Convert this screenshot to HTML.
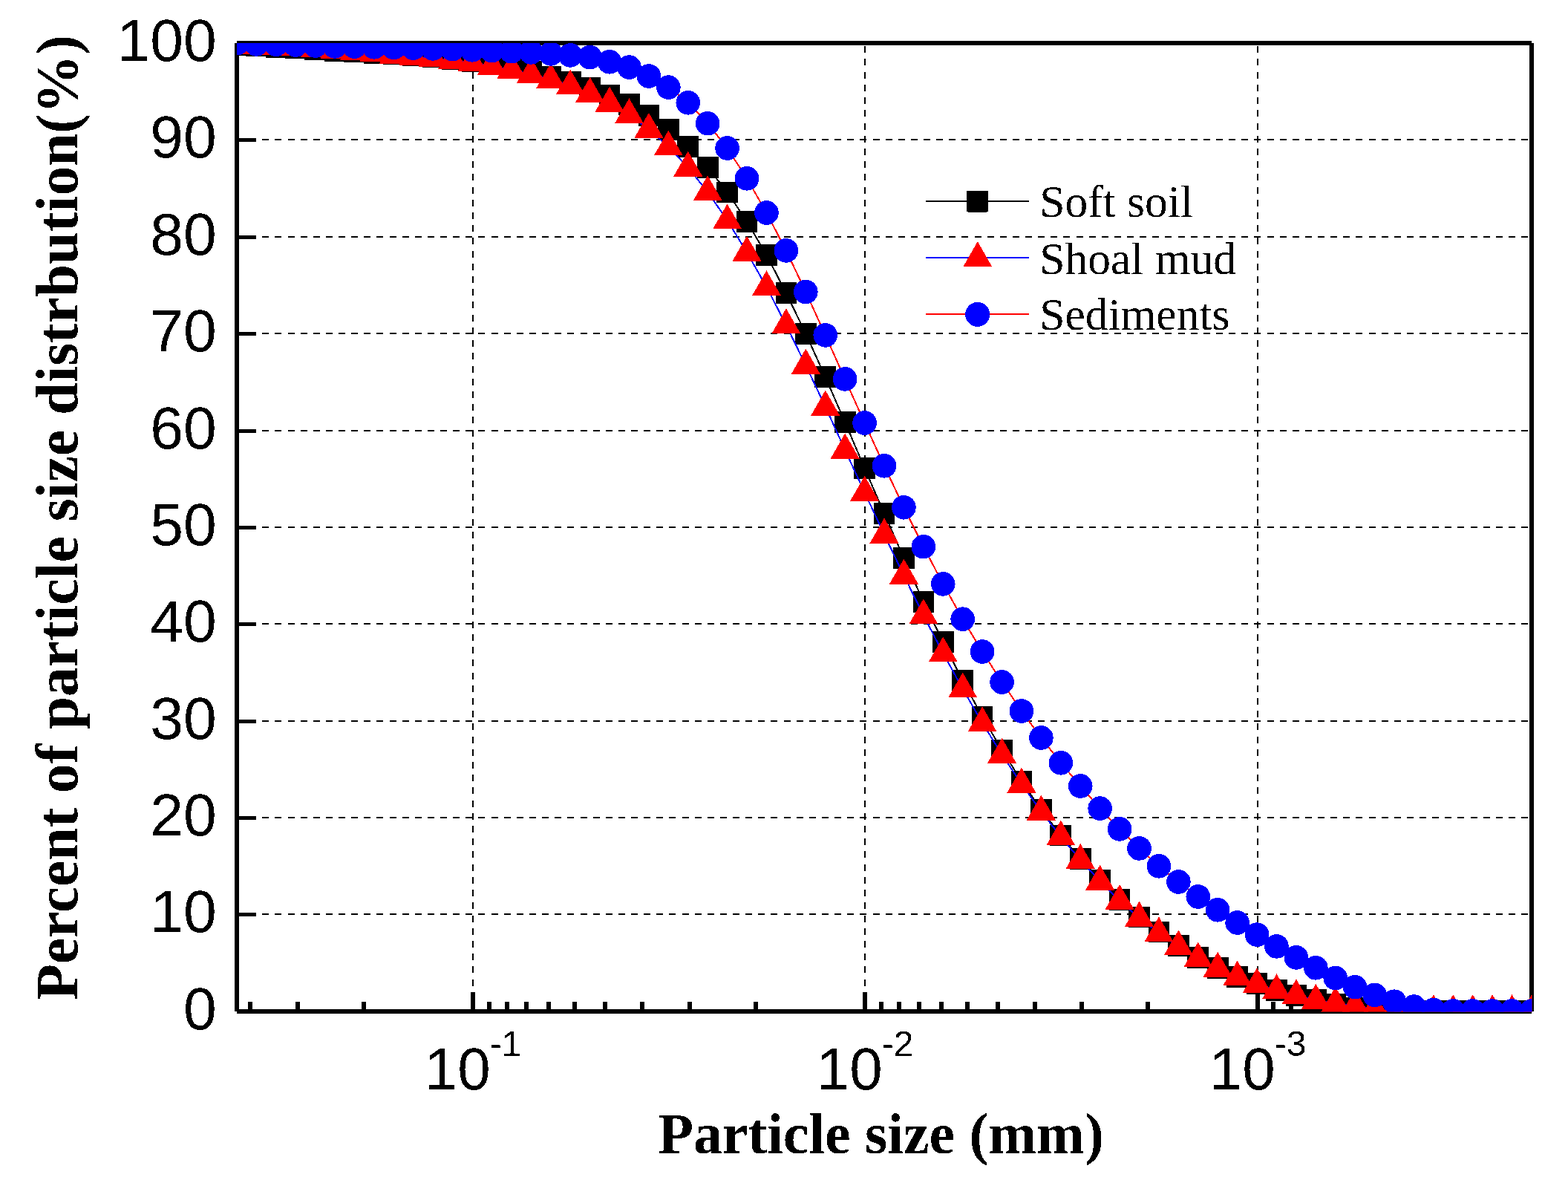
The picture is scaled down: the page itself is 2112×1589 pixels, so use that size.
<!DOCTYPE html>
<html><head><meta charset="utf-8"><title>Particle size distribution</title>
<style>html,body{margin:0;padding:0;background:#fff;}svg{display:block;}</style></head><body>
<svg width="2112" height="1589" viewBox="0 0 2112 1589" shape-rendering="crispEdges">
<defs><filter id="al" x="0" y="0" width="2112" height="1589" filterUnits="userSpaceOnUse" color-interpolation-filters="sRGB"><feComponentTransfer><feFuncA type="discrete" tableValues="0 1"/></feComponentTransfer></filter><clipPath id="pc"><rect x="319" y="58" width="1744.5" height="1304.5"/></clipPath></defs>
<rect width="2112" height="1589" fill="#fff"/>
<g stroke="#000" stroke-width="2" stroke-dasharray="9 8.13" fill="none"><line x1="319" y1="1231" x2="2063" y2="1231"/><line x1="319" y1="1101" x2="2063" y2="1101"/><line x1="319" y1="971" x2="2063" y2="971"/><line x1="319" y1="840" x2="2063" y2="840"/><line x1="319" y1="710" x2="2063" y2="710"/><line x1="319" y1="580" x2="2063" y2="580"/><line x1="319" y1="449" x2="2063" y2="449"/><line x1="319" y1="319" x2="2063" y2="319"/><line x1="319" y1="188" x2="2063" y2="188"/></g>
<g stroke="#000" stroke-width="2" stroke-dasharray="9 8.21" fill="none"><line x1="637" y1="1362" x2="637" y2="58"/><line x1="1165" y1="1362" x2="1165" y2="58"/><line x1="1694" y1="1362" x2="1694" y2="58"/></g>
<g stroke="#000" stroke-width="6" fill="none"><line x1="319" y1="58" x2="319" y2="1362"/><line x1="319" y1="1362" x2="2063" y2="1362"/><line x1="319" y1="58" x2="2063" y2="58"/><line x1="2063" y1="58" x2="2063" y2="1362"/></g>
<g stroke="#000" stroke-width="5" fill="none"><line x1="319" y1="1231.5" x2="345" y2="1231.5"/><line x1="319" y1="1101.5" x2="345" y2="1101.5"/><line x1="319" y1="971.5" x2="345" y2="971.5"/><line x1="319" y1="840.5" x2="345" y2="840.5"/><line x1="319" y1="710.5" x2="345" y2="710.5"/><line x1="319" y1="580.5" x2="345" y2="580.5"/><line x1="319" y1="449.5" x2="345" y2="449.5"/><line x1="319" y1="319.5" x2="345" y2="319.5"/><line x1="319" y1="188.5" x2="345" y2="188.5"/></g>
<g stroke="#000" stroke-width="6" fill="none"><line x1="637" y1="1362" x2="637" y2="1336"/><line x1="1165" y1="1362" x2="1165" y2="1336"/><line x1="1694" y1="1362" x2="1694" y2="1336"/><line x1="337" y1="1362" x2="337" y2="1349"/><line x1="401" y1="1362" x2="401" y2="1349"/><line x1="490" y1="1362" x2="490" y2="1349"/><line x1="659" y1="1362" x2="659" y2="1349"/><line x1="683" y1="1362" x2="683" y2="1349"/><line x1="709" y1="1362" x2="709" y2="1349"/><line x1="739" y1="1362" x2="739" y2="1349"/><line x1="774" y1="1362" x2="774" y2="1349"/><line x1="815" y1="1362" x2="815" y2="1349"/><line x1="865" y1="1362" x2="865" y2="1349"/><line x1="929" y1="1362" x2="929" y2="1349"/><line x1="1018" y1="1362" x2="1018" y2="1349"/><line x1="1187" y1="1362" x2="1187" y2="1349"/><line x1="1211" y1="1362" x2="1211" y2="1349"/><line x1="1238" y1="1362" x2="1238" y2="1349"/><line x1="1268" y1="1362" x2="1268" y2="1349"/><line x1="1303" y1="1362" x2="1303" y2="1349"/><line x1="1344" y1="1362" x2="1344" y2="1349"/><line x1="1394" y1="1362" x2="1394" y2="1349"/><line x1="1457" y1="1362" x2="1457" y2="1349"/><line x1="1546" y1="1362" x2="1546" y2="1349"/><line x1="1715" y1="1362" x2="1715" y2="1349"/><line x1="1739" y1="1362" x2="1739" y2="1349"/><line x1="1766" y1="1362" x2="1766" y2="1349"/><line x1="1796" y1="1362" x2="1796" y2="1349"/><line x1="1831" y1="1362" x2="1831" y2="1349"/><line x1="1872" y1="1362" x2="1872" y2="1349"/><line x1="1922" y1="1362" x2="1922" y2="1349"/><line x1="1986" y1="1362" x2="1986" y2="1349"/></g>
<g clip-path="url(#pc)">
<polyline points="319,60.7 345.42,61.9 371.85,63.9 398.27,64.9 424.7,66.8 451.12,68.7 477.55,69.8 503.97,71.7 530.39,72.7 556.82,74.7 583.24,76.6 609.67,79.8 636.09,82.8 662.52,86.5 688.94,91 715.36,96.5 741.79,103 768.21,110 794.64,118.5 821.06,128.4 847.48,140.3 873.91,155.2 900.33,174.3 926.76,197.5 953.18,225.2 979.61,258.9 1006.03,298.3 1032.45,343.3 1058.88,394.5 1085.3,449.2 1111.73,507.8 1138.15,568.4 1164.58,630.5 1191,691.5 1217.42,751.4 1243.85,810.5 1270.27,864.6 1296.7,916.5 1323.12,965 1349.55,1010 1375.97,1052 1402.39,1090.1 1428.82,1125.1 1455.24,1156.3 1481.67,1185 1508.09,1211.5 1534.52,1234.9 1560.94,1255.1 1587.36,1273.3 1613.79,1289.2 1640.21,1303.5 1666.64,1315.3 1693.06,1324.4 1719.48,1333.4 1745.91,1340.2 1772.33,1346.3 1798.76,1351.9 1825.18,1357.4 1851.61,1360.5 1878.03,1361.5 1904.45,1361.5 1930.88,1361.5 1957.3,1361.5 1983.73,1361.5 2010.15,1361.5 2036.58,1361.5 2063,1361.5" fill="none" stroke="#000" stroke-width="2" stroke-linejoin="round"/>
<g fill="#000"><rect x="304.65" y="46.35" width="28.7" height="28.7"/><rect x="331.07" y="47.55" width="28.7" height="28.7"/><rect x="357.5" y="49.55" width="28.7" height="28.7"/><rect x="383.92" y="50.55" width="28.7" height="28.7"/><rect x="410.35" y="52.45" width="28.7" height="28.7"/><rect x="436.77" y="54.35" width="28.7" height="28.7"/><rect x="463.2" y="55.45" width="28.7" height="28.7"/><rect x="489.62" y="57.35" width="28.7" height="28.7"/><rect x="516.04" y="58.35" width="28.7" height="28.7"/><rect x="542.47" y="60.35" width="28.7" height="28.7"/><rect x="568.89" y="62.25" width="28.7" height="28.7"/><rect x="595.32" y="65.45" width="28.7" height="28.7"/><rect x="621.74" y="68.45" width="28.7" height="28.7"/><rect x="648.17" y="72.15" width="28.7" height="28.7"/><rect x="674.59" y="76.65" width="28.7" height="28.7"/><rect x="701.01" y="82.15" width="28.7" height="28.7"/><rect x="727.44" y="88.65" width="28.7" height="28.7"/><rect x="753.86" y="95.65" width="28.7" height="28.7"/><rect x="780.29" y="104.15" width="28.7" height="28.7"/><rect x="806.71" y="114.05" width="28.7" height="28.7"/><rect x="833.13" y="125.95" width="28.7" height="28.7"/><rect x="859.56" y="140.85" width="28.7" height="28.7"/><rect x="885.98" y="159.95" width="28.7" height="28.7"/><rect x="912.41" y="183.15" width="28.7" height="28.7"/><rect x="938.83" y="210.85" width="28.7" height="28.7"/><rect x="965.26" y="244.55" width="28.7" height="28.7"/><rect x="991.68" y="283.95" width="28.7" height="28.7"/><rect x="1018.1" y="328.95" width="28.7" height="28.7"/><rect x="1044.53" y="380.15" width="28.7" height="28.7"/><rect x="1070.95" y="434.85" width="28.7" height="28.7"/><rect x="1097.38" y="493.45" width="28.7" height="28.7"/><rect x="1123.8" y="554.05" width="28.7" height="28.7"/><rect x="1150.23" y="616.15" width="28.7" height="28.7"/><rect x="1176.65" y="677.15" width="28.7" height="28.7"/><rect x="1203.07" y="737.05" width="28.7" height="28.7"/><rect x="1229.5" y="796.15" width="28.7" height="28.7"/><rect x="1255.92" y="850.25" width="28.7" height="28.7"/><rect x="1282.35" y="902.15" width="28.7" height="28.7"/><rect x="1308.77" y="950.65" width="28.7" height="28.7"/><rect x="1335.2" y="995.65" width="28.7" height="28.7"/><rect x="1361.62" y="1037.65" width="28.7" height="28.7"/><rect x="1388.04" y="1075.75" width="28.7" height="28.7"/><rect x="1414.47" y="1110.75" width="28.7" height="28.7"/><rect x="1440.89" y="1141.95" width="28.7" height="28.7"/><rect x="1467.32" y="1170.65" width="28.7" height="28.7"/><rect x="1493.74" y="1197.15" width="28.7" height="28.7"/><rect x="1520.17" y="1220.55" width="28.7" height="28.7"/><rect x="1546.59" y="1240.75" width="28.7" height="28.7"/><rect x="1573.01" y="1258.95" width="28.7" height="28.7"/><rect x="1599.44" y="1274.85" width="28.7" height="28.7"/><rect x="1625.86" y="1289.15" width="28.7" height="28.7"/><rect x="1652.29" y="1300.95" width="28.7" height="28.7"/><rect x="1678.71" y="1310.05" width="28.7" height="28.7"/><rect x="1705.13" y="1319.05" width="28.7" height="28.7"/><rect x="1731.56" y="1325.85" width="28.7" height="28.7"/><rect x="1757.98" y="1331.95" width="28.7" height="28.7"/><rect x="1784.41" y="1337.55" width="28.7" height="28.7"/><rect x="1810.83" y="1343.05" width="28.7" height="28.7"/><rect x="1837.26" y="1346.15" width="28.7" height="28.7"/><rect x="1863.68" y="1347.15" width="28.7" height="28.7"/><rect x="1890.1" y="1347.15" width="28.7" height="28.7"/><rect x="1916.53" y="1347.15" width="28.7" height="28.7"/><rect x="1942.95" y="1347.15" width="28.7" height="28.7"/><rect x="1969.38" y="1347.15" width="28.7" height="28.7"/><rect x="1995.8" y="1347.15" width="28.7" height="28.7"/><rect x="2022.23" y="1347.15" width="28.7" height="28.7"/><rect x="2048.65" y="1347.15" width="28.7" height="28.7"/></g>
<polyline points="319,60 345.42,61 371.85,62 398.27,63.5 424.7,65.3 451.12,67.2 477.55,69.3 503.97,71.3 530.39,74 556.82,76.3 583.24,78.1 609.67,81.2 636.09,84.2 662.52,89 688.94,94 715.36,100 741.79,107.1 768.21,115.7 794.64,126.1 821.06,138.9 847.48,154.5 873.91,174 900.33,197.7 926.76,225.8 953.18,258.5 979.61,296.7 1006.03,339.9 1032.45,386.5 1058.88,437.6 1085.3,491.8 1111.73,547.8 1138.15,605.8 1164.58,663 1191,719.8 1217.42,774.8 1243.85,828.6 1270.27,879.6 1296.7,927.7 1323.12,973.5 1349.55,1016 1375.97,1055.8 1402.39,1092.8 1428.82,1126.7 1455.24,1158.1 1481.67,1186.8 1508.09,1213 1534.52,1235.9 1560.94,1256.5 1587.36,1274.5 1613.79,1290.7 1640.21,1303.8 1666.64,1315.7 1693.06,1325.5 1719.48,1333.6 1745.91,1340.6 1772.33,1347 1798.76,1351 1825.18,1354.5 1851.61,1358.5 1878.03,1361.5 1904.45,1361.5 1930.88,1361.5 1957.3,1361.5 1983.73,1361.5 2010.15,1361.5 2036.58,1361.5 2063,1361.5" fill="none" stroke="#00f" stroke-width="2" stroke-linejoin="round"/>
<g fill="#f00"><path d="M319 37.8L338.5 71.7L299.5 71.7Z"/><path d="M345.42 38.8L364.92 72.7L325.92 72.7Z"/><path d="M371.85 39.8L391.35 73.7L352.35 73.7Z"/><path d="M398.27 41.3L417.77 75.2L378.77 75.2Z"/><path d="M424.7 43.1L444.2 77L405.2 77Z"/><path d="M451.12 45L470.62 78.9L431.62 78.9Z"/><path d="M477.55 47.1L497.05 81L458.05 81Z"/><path d="M503.97 49.1L523.47 83L484.47 83Z"/><path d="M530.39 51.8L549.89 85.7L510.89 85.7Z"/><path d="M556.82 54.1L576.32 88L537.32 88Z"/><path d="M583.24 55.9L602.74 89.8L563.74 89.8Z"/><path d="M609.67 59L629.17 92.9L590.17 92.9Z"/><path d="M636.09 62L655.59 95.9L616.59 95.9Z"/><path d="M662.52 66.8L682.02 100.7L643.02 100.7Z"/><path d="M688.94 71.8L708.44 105.7L669.44 105.7Z"/><path d="M715.36 77.8L734.86 111.7L695.86 111.7Z"/><path d="M741.79 84.9L761.29 118.8L722.29 118.8Z"/><path d="M768.21 93.5L787.71 127.4L748.71 127.4Z"/><path d="M794.64 103.9L814.14 137.8L775.14 137.8Z"/><path d="M821.06 116.7L840.56 150.6L801.56 150.6Z"/><path d="M847.48 132.3L866.98 166.2L827.98 166.2Z"/><path d="M873.91 151.8L893.41 185.7L854.41 185.7Z"/><path d="M900.33 175.5L919.83 209.4L880.83 209.4Z"/><path d="M926.76 203.6L946.26 237.5L907.26 237.5Z"/><path d="M953.18 236.3L972.68 270.2L933.68 270.2Z"/><path d="M979.61 274.5L999.11 308.4L960.11 308.4Z"/><path d="M1006.03 317.7L1025.53 351.6L986.53 351.6Z"/><path d="M1032.45 364.3L1051.95 398.2L1012.95 398.2Z"/><path d="M1058.88 415.4L1078.38 449.3L1039.38 449.3Z"/><path d="M1085.3 469.6L1104.8 503.5L1065.8 503.5Z"/><path d="M1111.73 525.6L1131.23 559.5L1092.23 559.5Z"/><path d="M1138.15 583.6L1157.65 617.5L1118.65 617.5Z"/><path d="M1164.58 640.8L1184.08 674.7L1145.08 674.7Z"/><path d="M1191 697.6L1210.5 731.5L1171.5 731.5Z"/><path d="M1217.42 752.6L1236.92 786.5L1197.92 786.5Z"/><path d="M1243.85 806.4L1263.35 840.3L1224.35 840.3Z"/><path d="M1270.27 857.4L1289.77 891.3L1250.77 891.3Z"/><path d="M1296.7 905.5L1316.2 939.4L1277.2 939.4Z"/><path d="M1323.12 951.3L1342.62 985.2L1303.62 985.2Z"/><path d="M1349.55 993.8L1369.05 1027.7L1330.05 1027.7Z"/><path d="M1375.97 1033.6L1395.47 1067.5L1356.47 1067.5Z"/><path d="M1402.39 1070.6L1421.89 1104.5L1382.89 1104.5Z"/><path d="M1428.82 1104.5L1448.32 1138.4L1409.32 1138.4Z"/><path d="M1455.24 1135.9L1474.74 1169.8L1435.74 1169.8Z"/><path d="M1481.67 1164.6L1501.17 1198.5L1462.17 1198.5Z"/><path d="M1508.09 1190.8L1527.59 1224.7L1488.59 1224.7Z"/><path d="M1534.52 1213.7L1554.02 1247.6L1515.02 1247.6Z"/><path d="M1560.94 1234.3L1580.44 1268.2L1541.44 1268.2Z"/><path d="M1587.36 1252.3L1606.86 1286.2L1567.86 1286.2Z"/><path d="M1613.79 1268.5L1633.29 1302.4L1594.29 1302.4Z"/><path d="M1640.21 1281.6L1659.71 1315.5L1620.71 1315.5Z"/><path d="M1666.64 1293.5L1686.14 1327.4L1647.14 1327.4Z"/><path d="M1693.06 1303.3L1712.56 1337.2L1673.56 1337.2Z"/><path d="M1719.48 1311.4L1738.98 1345.3L1699.98 1345.3Z"/><path d="M1745.91 1318.4L1765.41 1352.3L1726.41 1352.3Z"/><path d="M1772.33 1324.8L1791.83 1358.7L1752.83 1358.7Z"/><path d="M1798.76 1328.8L1818.26 1362.7L1779.26 1362.7Z"/><path d="M1825.18 1332.3L1844.68 1366.2L1805.68 1366.2Z"/><path d="M1851.61 1336.3L1871.11 1370.2L1832.11 1370.2Z"/><path d="M1878.03 1339.3L1897.53 1373.2L1858.53 1373.2Z"/><path d="M1904.45 1339.3L1923.95 1373.2L1884.95 1373.2Z"/><path d="M1930.88 1339.3L1950.38 1373.2L1911.38 1373.2Z"/><path d="M1957.3 1339.3L1976.8 1373.2L1937.8 1373.2Z"/><path d="M1983.73 1339.3L2003.23 1373.2L1964.23 1373.2Z"/><path d="M2010.15 1339.3L2029.65 1373.2L1990.65 1373.2Z"/><path d="M2036.58 1339.3L2056.08 1373.2L2017.08 1373.2Z"/><path d="M2063 1339.3L2082.5 1373.2L2043.5 1373.2Z"/></g>
<polyline points="319,58.2 345.42,59.4 371.85,59.7 398.27,60.5 424.7,61.5 451.12,62.4 477.55,62.6 503.97,63.3 530.39,63.9 556.82,64.6 583.24,65.4 609.67,66.2 636.09,67.3 662.52,68.2 688.94,69.2 715.36,70.4 741.79,72.4 768.21,74.4 794.64,77.1 821.06,83.3 847.48,90.6 873.91,102.5 900.33,117.6 926.76,138.3 953.18,166.2 979.61,199.5 1006.03,240.4 1032.45,286.5 1058.88,337.4 1085.3,393 1111.73,451.4 1138.15,510.4 1164.58,569.5 1191,627.3 1217.42,683.3 1243.85,736.2 1270.27,786.4 1296.7,833.7 1323.12,877.5 1349.55,918.5 1375.97,957.5 1402.39,993.5 1428.82,1027.3 1455.24,1058.5 1481.67,1088.6 1508.09,1116.4 1534.52,1142.4 1560.94,1166.3 1587.36,1187.5 1613.79,1207.5 1640.21,1225.3 1666.64,1242.5 1693.06,1258.6 1719.48,1274.4 1745.91,1289.4 1772.33,1303.3 1798.76,1317 1825.18,1329.2 1851.61,1339.9 1878.03,1348.7 1904.45,1355.6 1930.88,1360 1957.3,1361.5 1983.73,1361.5 2010.15,1361.5 2036.58,1361.5 2063,1361.5" fill="none" stroke="#f00" stroke-width="2" stroke-linejoin="round"/>
<g fill="#00f"><circle cx="319" cy="58.2" r="16.3"/><circle cx="345.42" cy="59.4" r="16.3"/><circle cx="371.85" cy="59.7" r="16.3"/><circle cx="398.27" cy="60.5" r="16.3"/><circle cx="424.7" cy="61.5" r="16.3"/><circle cx="451.12" cy="62.4" r="16.3"/><circle cx="477.55" cy="62.6" r="16.3"/><circle cx="503.97" cy="63.3" r="16.3"/><circle cx="530.39" cy="63.9" r="16.3"/><circle cx="556.82" cy="64.6" r="16.3"/><circle cx="583.24" cy="65.4" r="16.3"/><circle cx="609.67" cy="66.2" r="16.3"/><circle cx="636.09" cy="67.3" r="16.3"/><circle cx="662.52" cy="68.2" r="16.3"/><circle cx="688.94" cy="69.2" r="16.3"/><circle cx="715.36" cy="70.4" r="16.3"/><circle cx="741.79" cy="72.4" r="16.3"/><circle cx="768.21" cy="74.4" r="16.3"/><circle cx="794.64" cy="77.1" r="16.3"/><circle cx="821.06" cy="83.3" r="16.3"/><circle cx="847.48" cy="90.6" r="16.3"/><circle cx="873.91" cy="102.5" r="16.3"/><circle cx="900.33" cy="117.6" r="16.3"/><circle cx="926.76" cy="138.3" r="16.3"/><circle cx="953.18" cy="166.2" r="16.3"/><circle cx="979.61" cy="199.5" r="16.3"/><circle cx="1006.03" cy="240.4" r="16.3"/><circle cx="1032.45" cy="286.5" r="16.3"/><circle cx="1058.88" cy="337.4" r="16.3"/><circle cx="1085.3" cy="393" r="16.3"/><circle cx="1111.73" cy="451.4" r="16.3"/><circle cx="1138.15" cy="510.4" r="16.3"/><circle cx="1164.58" cy="569.5" r="16.3"/><circle cx="1191" cy="627.3" r="16.3"/><circle cx="1217.42" cy="683.3" r="16.3"/><circle cx="1243.85" cy="736.2" r="16.3"/><circle cx="1270.27" cy="786.4" r="16.3"/><circle cx="1296.7" cy="833.7" r="16.3"/><circle cx="1323.12" cy="877.5" r="16.3"/><circle cx="1349.55" cy="918.5" r="16.3"/><circle cx="1375.97" cy="957.5" r="16.3"/><circle cx="1402.39" cy="993.5" r="16.3"/><circle cx="1428.82" cy="1027.3" r="16.3"/><circle cx="1455.24" cy="1058.5" r="16.3"/><circle cx="1481.67" cy="1088.6" r="16.3"/><circle cx="1508.09" cy="1116.4" r="16.3"/><circle cx="1534.52" cy="1142.4" r="16.3"/><circle cx="1560.94" cy="1166.3" r="16.3"/><circle cx="1587.36" cy="1187.5" r="16.3"/><circle cx="1613.79" cy="1207.5" r="16.3"/><circle cx="1640.21" cy="1225.3" r="16.3"/><circle cx="1666.64" cy="1242.5" r="16.3"/><circle cx="1693.06" cy="1258.6" r="16.3"/><circle cx="1719.48" cy="1274.4" r="16.3"/><circle cx="1745.91" cy="1289.4" r="16.3"/><circle cx="1772.33" cy="1303.3" r="16.3"/><circle cx="1798.76" cy="1317" r="16.3"/><circle cx="1825.18" cy="1329.2" r="16.3"/><circle cx="1851.61" cy="1339.9" r="16.3"/><circle cx="1878.03" cy="1348.7" r="16.3"/><circle cx="1904.45" cy="1355.6" r="16.3"/><circle cx="1930.88" cy="1360" r="16.3"/><circle cx="1957.3" cy="1361.5" r="16.3"/><circle cx="1983.73" cy="1361.5" r="16.3"/><circle cx="2010.15" cy="1361.5" r="16.3"/><circle cx="2036.58" cy="1361.5" r="16.3"/><circle cx="2063" cy="1361.5" r="16.3"/></g>
</g>
<line x1="1247" y1="271" x2="1386" y2="271" stroke="#000" stroke-width="2"/><rect x="1302" y="256.5" width="29" height="29" rx="2" fill="#000"/><line x1="1247" y1="347" x2="1386" y2="347" stroke="#00f" stroke-width="2"/><path d="M1316.8 325.2L1335.8 358.5L1297.8 358.5Z" fill="#f00"/><line x1="1247" y1="423" x2="1386" y2="423" stroke="#f00" stroke-width="2"/><circle cx="1316.7" cy="423.4" r="16.5" fill="#00f"/>
<g filter="url(#al)">
<g font-family="Liberation Sans, sans-serif" font-size="80.5" fill="#000"><text x="291.8" y="1386.3" text-anchor="end">0</text><text x="291.8" y="1255.3" text-anchor="end">10</text><text x="291.8" y="1125.3" text-anchor="end">20</text><text x="291.8" y="995.3" text-anchor="end">30</text><text x="291.8" y="864.3" text-anchor="end">40</text><text x="291.8" y="734.3" text-anchor="end">50</text><text x="291.8" y="604.3" text-anchor="end">60</text><text x="291.8" y="473.3" text-anchor="end">70</text><text x="291.8" y="343.3" text-anchor="end">80</text><text x="291.8" y="212.3" text-anchor="end">90</text><text x="291.8" y="82.3" text-anchor="end">100</text></g>
<g font-family="Liberation Sans, sans-serif" fill="#000"><text x="637" y="1466.5" font-size="80" text-anchor="middle">10<tspan font-size="48" dx="-1" dy="-44.5">-1</tspan></text><text x="1165" y="1466.5" font-size="80" text-anchor="middle">10<tspan font-size="48" dx="-1" dy="-44.5">-2</tspan></text><text x="1694" y="1466.5" font-size="80" text-anchor="middle">10<tspan font-size="48" dx="-1" dy="-44.5">-3</tspan></text></g>
<text x="886.4" y="1553" font-family="Liberation Serif, serif" font-weight="bold" font-size="77.8" fill="#000">Particle size (mm)</text>
<text transform="translate(104 1346.6) rotate(-90)" x="0" y="0" font-family="Liberation Serif, serif" font-weight="bold" font-size="79.4" fill="#000">Percent of particle size distrbution(%)</text>
<g font-family="Liberation Serif, serif" font-size="61.5" fill="#000"><text x="1400.2" y="291.5">Soft soil</text><text x="1400.2" y="368.5">Shoal mud</text><text x="1400.2" y="444">Sediments</text></g>
</g>
</svg>
</body></html>
